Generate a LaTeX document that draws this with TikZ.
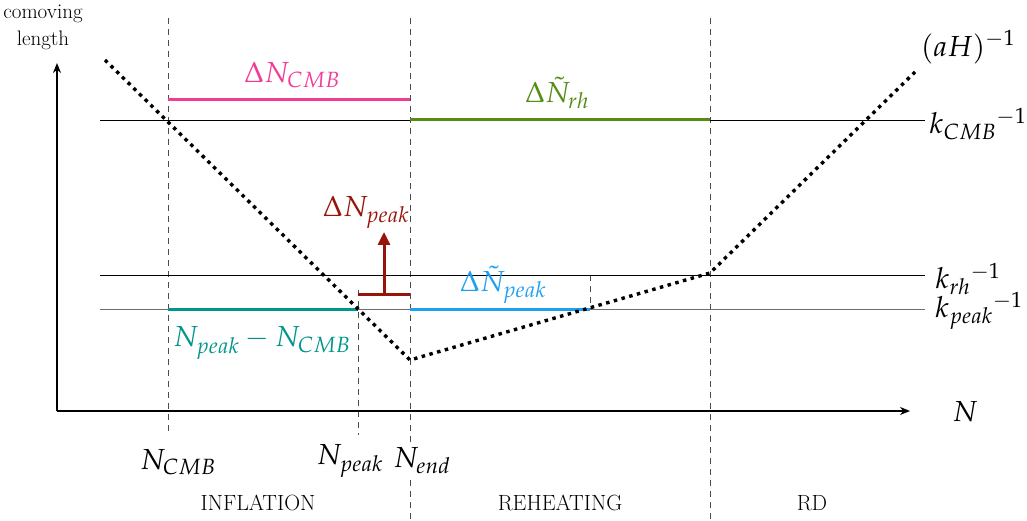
\documentclass[tikz,border=0pt]{standalone}
\usepackage{mathpazo}
\usetikzlibrary{arrows.meta}
\definecolor{cpink}{RGB}{240,60,150}
\definecolor{cgreen}{RGB}{85,140,20}
\definecolor{cteal}{RGB}{0,150,140}
\definecolor{cblue}{RGB}{30,160,240}
\definecolor{cred}{RGB}{150,20,10}
\definecolor{cgray}{RGB}{110,110,110}
\tikzset{
  ax/.style={line width=1.8pt,-{Stealth[length=10pt,width=8pt]}},
  vdash/.style={draw=black!70,dash pattern=on 6pt off 5pt,line width=0.9pt},
  hline/.style={line width=0.9pt},
  curve/.style={line width=3.4pt,dash pattern=on 3.5pt off 4.5pt},
  seg/.style={line width=3pt},
  lab/.style={font=\fontsize{29}{34}\selectfont,inner sep=1pt},
  phase/.style={font=\fontsize{22}{26}\selectfont},
  small/.style={font=\fontsize{21}{25}\selectfont},
}
\begin{document}
\begin{tikzpicture}[x=1pt,y=-1pt]
\useasboundingbox (0,0) rectangle (1027,521);
% coordinates
\coordinate (O) at (57,411);
\coordinate (Ytop) at (57,63);
\coordinate (Xend) at (910,411);
\coordinate (vc1) at (168,18); \coordinate (vc2) at (168,435);
\coordinate (ve1) at (410,18); \coordinate (ve2) at (410,521);
\coordinate (vp1) at (358,290); \coordinate (vp2) at (358,435);
\coordinate (vr1) at (710,18); \coordinate (vr2) at (710,521);
\coordinate (vs1) at (590,275); \coordinate (vs2) at (590,309);
\coordinate (kc1) at (100,120); \coordinate (kc2) at (925,120);
\coordinate (kr1) at (100,275); \coordinate (kr2) at (925,275);
\coordinate (kp1) at (100,309); \coordinate (kp2) at (925,309);
\coordinate (c1) at (105,60); \coordinate (c2) at (410,360);
\coordinate (c3) at (710,273); \coordinate (c4) at (915,72);
\coordinate (p1) at (168,100); \coordinate (p2) at (410,100);
\coordinate (g1) at (410,120); \coordinate (g2) at (710,120);
\coordinate (t1) at (168,309); \coordinate (t2) at (358,309);
\coordinate (b1) at (410,309); \coordinate (b2) at (590,309);
\coordinate (r1) at (358,294); \coordinate (r2) at (410,294);
\coordinate (r3) at (384,294); \coordinate (r4) at (384,232);
% dashed verticals
\draw[vdash] (vc1) -- (vc2);
\draw[vdash] (ve1) -- (ve2);
\draw[vdash] (vp1) -- (vp2);
\draw[vdash] (vr1) -- (vr2);
\draw[vdash] (vs1) -- (vs2);
% horizontal k lines
\draw[hline] (kc1) -- (kc2);
\draw[hline] (kr1) -- (kr2);
\draw[hline,cgray] (kp1) -- (kp2);
% axes
\draw[ax] (O) -- (Ytop);
\draw[ax] (O) -- (Xend);
% colored segments
\draw[seg,cpink] (p1) -- (p2);
\draw[seg,cgreen] (g1) -- (g2);
\draw[seg,cteal] (t1) -- (t2);
\draw[seg,cblue] (b1) -- (b2);
\draw[seg,cred] (r1) -- (r2);
\draw[seg,cred,-{Triangle[length=13pt,width=12pt]}] (r3) -- (r4);
% curve
\draw[curve] (c1) -- (c2) -- (c3) -- (c4);
% labels
\node[small] (lc) at (43,14) {comoving};
\node[small] (ll) at (43,40) {length};
\node[lab] (lN) at (965,412) {$N$};
\node[lab] (lNc) at (178,462) {$N_{CMB}$};
\node[lab] (lNp) at (350,461) {$N_{peak}$};
\node[lab,fill=white] (lNe) at (422,461) {$N_{end}$};
\node[phase] (ph1) at (258,503) {INFLATION};
\node[phase] (ph2) at (560,503) {REHEATING};
\node[phase] (ph3) at (812,503) {RD};
\node[lab] (laH) at (968,47) {$(aH)^{-1}$};
\node[lab] (lkc) at (978,124) {$k_{CMB}{}^{-1}$};
\node[lab] (lkr) at (968,279) {$k_{rh}{}^{-1}$};
\node[lab] (lkp) at (979,311) {$k_{peak}{}^{-1}$};
\node[lab,cpink] (ldc) at (292,75) {$\Delta N_{CMB}$};
\node[lab,cgreen] (ldr) at (557,93) {$\Delta\tilde N_{rh}$};
\node[lab,cteal] (ldt) at (262,343) {$N_{peak}-N_{CMB}$};
\node[lab,cblue] (ldb) at (503,285) {$\Delta\tilde N_{peak}$};
\node[lab,cred] (ldp) at (366,212) {$\Delta N_{peak}$};
\end{tikzpicture}
\end{document}
